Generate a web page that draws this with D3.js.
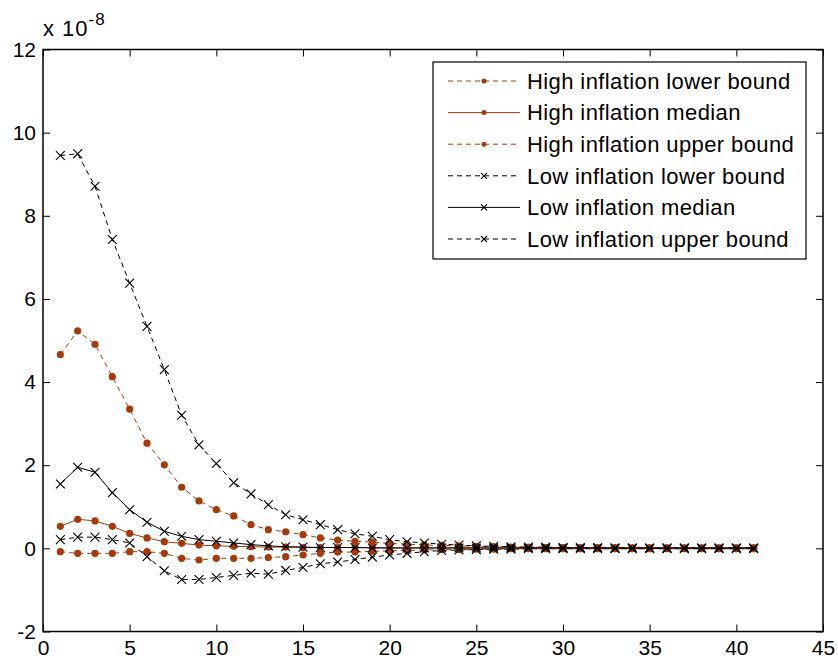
<!DOCTYPE html>
<html>
<head>
<meta charset="utf-8">
<script src="https://cdn.jsdelivr.net/npm/d3@7"></script>
<style>
  body { margin: 0; background: #fff; overflow: hidden; }
  text { font-family: "Liberation Sans", Arial, sans-serif; fill: #000; }
</style>
</head>
<body>
<div id="chart"></div>
<script>
// periodos 1..41, valores en unidades de 1e-8
const periods = d3.range(1, 42)

const highLower = [-0.08, -0.12, -0.12, -0.12, -0.08, -0.08, -0.12, -0.24, -0.28, -0.24,
  -0.24, -0.24, -0.22, -0.20, -0.16, -0.12, -0.09, -0.09, -0.07, -0.06,
  -0.05, -0.04, -0.03, -0.03, -0.02, -0.02, -0.01, -0.01, -0.01, -0.01,
  -0.01, -0.01, -0.01, -0.01, -0.01, -0.01, -0.01, -0.01, -0.01, -0.01, -0.01]
const highMedian = [0.53, 0.70, 0.66, 0.53, 0.36, 0.25, 0.16, 0.12, 0.08, 0.06,
  0.05, 0.04, 0.03, 0.03, 0.02, 0.02, 0.02, 0.02, 0.02, 0.01,
  0.01, 0.01, 0.01, 0.01, 0.01, 0.01, 0.01, 0.01, 0.01, 0.01,
  0.01, 0.01, 0.01, 0.01, 0.01, 0.01, 0.01, 0.01, 0.01, 0.01, 0.01]
const highUpper = [4.66, 5.23, 4.91, 4.13, 3.35, 2.53, 2.01, 1.47, 1.14, 0.93,
  0.78, 0.57, 0.45, 0.40, 0.33, 0.25, 0.20, 0.17, 0.15, 0.12,
  0.10, 0.08, 0.07, 0.06, 0.05, 0.04, 0.03, 0.03, 0.02, 0.02,
  0.02, 0.02, 0.02, 0.01, 0.01, 0.01, 0.01, 0.01, 0.01, 0.01, 0.01]
const lowLower = [0.21, 0.27, 0.27, 0.21, 0.13, -0.20, -0.54, -0.75, -0.75, -0.70,
  -0.65, -0.60, -0.62, -0.53, -0.46, -0.37, -0.33, -0.27, -0.21, -0.16,
  -0.12, -0.08, -0.05, -0.04, -0.03, -0.02, -0.02, -0.01, -0.01, -0.01,
  -0.01, -0.01, -0.01, -0.01, -0.01, -0.01, -0.01, -0.01, -0.01, -0.01, -0.01]
const lowMedian = [1.55, 1.95, 1.83, 1.34, 0.93, 0.63, 0.41, 0.29, 0.21, 0.17,
  0.13, 0.09, 0.06, 0.04, 0.03, 0.02, 0.02, 0.02, 0.01, 0.01,
  0.01, 0.01, 0.01, 0.01, 0.01, 0.01, 0.01, 0.01, 0.01, 0.01,
  0.01, 0.01, 0.01, 0.01, 0.01, 0.01, 0.01, 0.01, 0.01, 0.01, 0.01]
const lowUpper = [9.45, 9.49, 8.71, 7.43, 6.38, 5.34, 4.30, 3.20, 2.49, 2.04,
  1.58, 1.31, 1.05, 0.81, 0.69, 0.57, 0.45, 0.35, 0.29, 0.21,
  0.16, 0.13, 0.10, 0.08, 0.06, 0.05, 0.04, 0.03, 0.03, 0.02,
  0.02, 0.02, 0.01, 0.01, 0.01, 0.01, 0.01, 0.01, 0.01, 0.01, 0.01]

const xTicks = d3.range(0, 46, 5)
const yTicks = d3.range(-2, 13, 2)

const width = 838
const height = 659
const margin = {top: 49.5, bottom: 27.5, left: 43, right: 15}
const brown = "#a63a0b"

const series = [
  {name: "High inflation lower bound", values: highLower, color: brown, dash: "5,4", marker: "dot"},
  {name: "High inflation median", values: highMedian, color: brown, dash: null, marker: "dot"},
  {name: "High inflation upper bound", values: highUpper, color: brown, dash: "5,4", marker: "dot"},
  {name: "Low inflation lower bound", values: lowLower, color: "#000", dash: "5,4", marker: "x"},
  {name: "Low inflation median", values: lowMedian, color: "#000", dash: null, marker: "x"},
  {name: "Low inflation upper bound", values: lowUpper, color: "#000", dash: "5,4", marker: "x"},
]

const svg = d3.select("#chart")
  .append("svg")
  .attr("width", width)
  .attr("height", height)
  .style("display", "block")

const x = d3.scaleLinear().domain([0, 45]).range([margin.left, width - margin.right])
const y = d3.scaleLinear().domain([-2, 12]).range([height - margin.bottom, margin.top])

// ejes estilo matlab: ticks hacia dentro en los cuatro lados
const tickLen = 7
const fmt = d => String(d)
svg.append("g")
  .attr("transform", `translate(0, ${y(-2)})`)
  .call(d3.axisBottom(x).tickValues(xTicks).tickFormat(fmt).tickSizeInner(-tickLen).tickSizeOuter(0).tickPadding(9))
svg.append("g")
  .attr("transform", `translate(0, ${y(12)})`)
  .call(d3.axisTop(x).tickValues(xTicks).tickSizeInner(-tickLen).tickSizeOuter(0).tickFormat(""))
svg.append("g")
  .attr("transform", `translate(${x(0)}, 0)`)
  .call(d3.axisLeft(y).tickValues(yTicks).tickFormat(fmt).tickSizeInner(-tickLen).tickSizeOuter(0).tickPadding(7))
svg.append("g")
  .attr("transform", `translate(${x(45)}, 0)`)
  .call(d3.axisRight(y).tickValues(yTicks).tickSizeInner(-tickLen).tickSizeOuter(0).tickFormat(""))

svg.selectAll(".domain").remove()
svg.selectAll(".tick line").attr("stroke", "#000")
svg.selectAll(".tick text").attr("font-size", 21).attr("font-family", "Liberation Sans, Arial, sans-serif").attr("fill", "#000")

svg.append("rect")
  .attr("x", x(0)).attr("y", y(12))
  .attr("width", x(45) - x(0)).attr("height", y(-2) - y(12))
  .attr("fill", "none").attr("stroke", "#000").attr("stroke-width", 1.5)

// exponente
const expo = svg.append("text").attr("x", x(0)).attr("y", 36).attr("font-size", 22).attr("letter-spacing", 1)
expo.append("tspan").text("x 10")
expo.append("tspan").attr("dy", -11).attr("font-size", 17).text("-8")

const line = d3.line().x((d, i) => x(periods[i])).y(d => y(d))

function drawMarker(g, type, cx, cy, size, color) {
  if (type === "dot") {
    g.append("circle").attr("cx", cx).attr("cy", cy).attr("r", size).attr("fill", color)
  } else {
    g.append("path")
      .attr("d", `M${cx - size},${cy - size}L${cx + size},${cy + size}M${cx - size},${cy + size}L${cx + size},${cy - size}`)
      .attr("stroke", color).attr("stroke-width", 1.1).attr("fill", "none")
  }
}

const plot = svg.append("g")
series.forEach(s => {
  const g = plot.append("g")
  g.append("path")
    .datum(s.values)
    .attr("d", line)
    .attr("fill", "none")
    .attr("stroke", s.color)
    .attr("stroke-width", 1)
    .attr("stroke-dasharray", s.dash)
  s.values.forEach((v, i) => drawMarker(g, s.marker, x(periods[i]), y(v), s.marker === "dot" ? 3.6 : 4.4, s.color))
})

// leyenda
const legend = svg.append("g").attr("transform", "translate(433, 62)")
legend.append("rect").attr("width", 373).attr("height", 197)
  .attr("fill", "#fff").attr("stroke", "#000").attr("stroke-width", 1.2)

series.forEach((s, i) => {
  const ly = 19 + i * 31.6
  legend.append("line")
    .attr("x1", 15).attr("x2", 87).attr("y1", ly).attr("y2", ly)
    .attr("stroke", s.color).attr("stroke-width", 1)
    .attr("stroke-dasharray", s.dash)
  drawMarker(legend, s.marker, 51, ly, s.marker === "dot" ? 2.5 : 3, s.color)
  legend.append("text")
    .attr("x", 94).attr("y", ly)
    .attr("dy", "0.35em")
    .attr("font-size", 22)
    .attr("letter-spacing", 0.4)
    .text(s.name)
})
</script>
</body>
</html>
